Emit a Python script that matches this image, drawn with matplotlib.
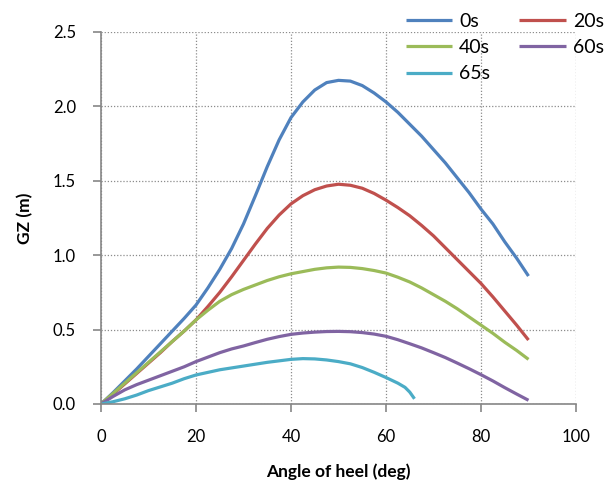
import matplotlib
matplotlib.use("Agg")
import matplotlib.pyplot as plt

plt.rcParams["font.family"] = ["Lato", "DejaVu Sans"]

# heel angles (deg) and GZ values (m)
angles = [0, 2.5, 5, 7.5, 10, 12.5, 15, 17.5, 20, 22.5, 25, 27.5, 30, 32.5, 35, 37.5,
          40, 42.5, 45, 47.5, 50, 52.5, 55, 57.5, 60, 62.5, 65, 67.5, 70, 72.5, 75,
          77.5, 80, 82.5, 85, 87.5, 90]
gz_0s = [0, 0.075, 0.155, 0.235, 0.32, 0.405, 0.49, 0.575, 0.665, 0.78, 0.905, 1.045,
         1.21, 1.40, 1.595, 1.775, 1.925, 2.03, 2.11, 2.16, 2.175, 2.17, 2.14, 2.09, 2.03,
         1.96, 1.88, 1.80, 1.71, 1.62, 1.52, 1.42, 1.31, 1.21, 1.09, 0.98, 0.86]
gz_20s = [0, 0.065, 0.135, 0.205, 0.275, 0.345, 0.42, 0.49, 0.565, 0.655, 0.75, 0.855,
          0.965, 1.075, 1.18, 1.27, 1.345, 1.40, 1.44, 1.465, 1.477, 1.47, 1.45, 1.415,
          1.37, 1.32, 1.265, 1.20, 1.13, 1.05, 0.97, 0.89, 0.81, 0.72, 0.625, 0.53, 0.43]
gz_40s = [0, 0.07, 0.14, 0.21, 0.28, 0.35, 0.42, 0.49, 0.565, 0.63, 0.69, 0.735, 0.77,
          0.80, 0.83, 0.855, 0.875, 0.89, 0.905, 0.915, 0.92, 0.918, 0.91, 0.897, 0.88,
          0.852, 0.82, 0.78, 0.735, 0.69, 0.64, 0.585, 0.53, 0.475, 0.415, 0.36, 0.30]
gz_60s = [0, 0.05, 0.095, 0.13, 0.16, 0.19, 0.22, 0.25, 0.285, 0.315, 0.345, 0.37, 0.39,
          0.413, 0.435, 0.453, 0.468, 0.477, 0.483, 0.487, 0.488, 0.486, 0.48, 0.47,
          0.455, 0.432, 0.405, 0.377, 0.345, 0.312, 0.275, 0.237, 0.197, 0.155, 0.11,
          0.067, 0.025]

angles_65 = [0, 2.5, 5, 7.5, 10, 12.5, 15, 17.5, 20, 25, 30, 35, 40, 42.5, 45, 47.5,
             50, 52.5, 55, 57.5, 60, 62.5, 64, 65, 66]
gz_65s = [0, 0.015, 0.035, 0.06, 0.09, 0.115, 0.14, 0.17, 0.195, 0.23, 0.255, 0.28,
          0.30, 0.305, 0.303, 0.296, 0.285, 0.27, 0.245, 0.213, 0.178, 0.14, 0.112,
          0.08, 0.035]

fig = plt.figure(figsize=(6.08, 4.83), dpi=100)
ax = fig.add_axes([101 / 608, 1 - 404 / 483, 475 / 608, 372 / 483])

lw = 2.3
style = dict(lw=lw, solid_capstyle="butt", solid_joinstyle="round")
l0, = ax.plot(angles, gz_0s, color="#4F81BD", label="0s", **style)
l20, = ax.plot(angles, gz_20s, color="#C0504D", label="20s", **style)
l40, = ax.plot(angles, gz_40s, color="#9BBB59", label="40s", **style)
l60, = ax.plot(angles, gz_60s, color="#8064A2", label="60s", **style)
l65, = ax.plot(angles_65, gz_65s, color="#4BACC6", label="65s", **style)

ax.set_xlim(0, 100)
ax.set_ylim(0, 2.5)
ax.set_xticks(range(0, 101, 20))
ax.set_yticks([0, 0.5, 1.0, 1.5, 2.0, 2.5])
ax.set_yticklabels(["0.0", "0.5", "1.0", "1.5", "2.0", "2.5"])

ax.grid(True, color="#8c8c8c", linestyle=(0, (1, 1.5)), linewidth=0.9)
for s in ["top", "right"]:
    ax.spines[s].set_visible(False)
for s in ["left", "bottom"]:
    ax.spines[s].set_color("#868686")
    ax.spines[s].set_linewidth(1.2)
ax.tick_params(colors="#868686", length=6, width=1.2, labelsize=12, labelcolor="black",
               pad=12)

ax.set_xlabel("Angle of heel (deg)", fontsize=12.5, fontweight="bold", labelpad=13)
ax.set_ylabel("GZ (m)", fontsize=12.5, fontweight="bold", labelpad=14)

leg = fig.legend([l0, l40, l65, l20, l60], ["0s", "40s", "65s", "20s", "60s"],
                 ncol=2, loc="upper left", bbox_to_anchor=(398 / 608, 1 - 5 / 483),
                 frameon=False, fontsize=14, handlelength=2.4, handletextpad=0.35,
                 columnspacing=1.5, labelspacing=0.48, borderaxespad=0)

fig.savefig("out.png", dpi=100)
